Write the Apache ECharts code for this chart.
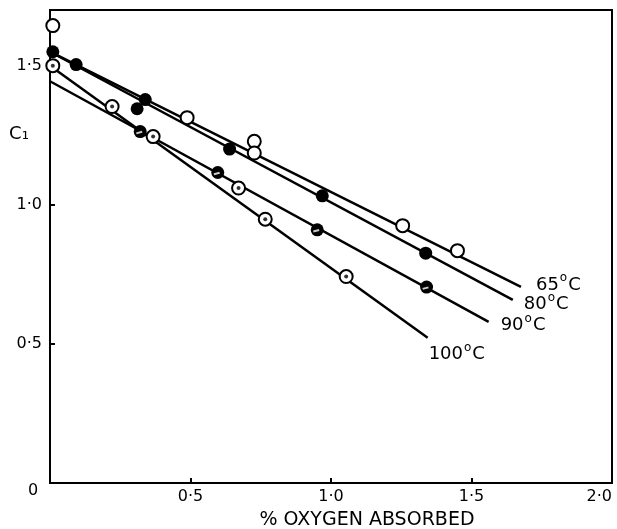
<!DOCTYPE html>
<html>
<head>
<meta charset="utf-8">
<script src="https://cdn.jsdelivr.net/npm/echarts@6/dist/echarts.min.js"></script>
<style>
    html, body { margin: 0; padding: 0; background: #fff; }
    #chart { width: 617px; height: 529px; }
</style>
</head>
<body>
<div id="chart"></div>
<script>
// fitted lines, start and end
var fit65 = [[0, 1.55], [1.676, 0.705]];
var fit80 = [[0, 1.55], [1.647, 0.658]];
var fit90 = [[0, 1.444], [1.561, 0.579]];
var fit100 = [[0, 1.50], [1.344, 0.522]];

// measured points
var pts65 = [[0.01, 1.644], [0.488, 1.313], [0.727, 1.228], [0.727, 1.186], [1.255, 0.925], [1.45, 0.835]];
var pts80 = [[0.01, 1.55], [0.093, 1.504], [0.339, 1.378], [0.31, 1.345], [0.639, 1.20], [0.969, 1.032], [1.337, 0.826]];
var pts90 = [[0.321, 1.263], [0.597, 1.116], [0.951, 0.910], [1.340, 0.704]];
var pts100 = [[0.01, 1.50], [0.221, 1.353], [0.367, 1.245], [0.671, 1.06], [0.766, 0.948], [1.054, 0.742]];

var lineNames = ['65', '80', '90', '100'];
var xTickLabels = { '0.5': '0·5', '1': '1·0', '1.5': '1·5', '2': '2·0' };
var yTickLabels = { '0.5': '0·5', '1': '1·0', '1.5': '1·5' };

var font = '"DejaVu Sans", sans-serif';

var myChart = echarts.init(document.getElementById('chart'));

function fitLine(data, name, offset) {
    return {
        type: 'line',
        data: data,
        symbol: 'none',
        silent: true,
        z: 2,
        lineStyle: { color: '#000', width: 2.5 },
        endLabel: {
            show: true,
            offset: offset,
            formatter: '{n|' + name + '}{s|o}{n|C}',
            rich: {
                n: { fontFamily: font, fontSize: 18, color: '#000' },
                s: { fontFamily: font, fontSize: 12, color: '#000', padding: [0, 1, 13, 1] }
            }
        }
    };
}

function points(data, fill, size) {
    return {
        type: 'scatter',
        data: data,
        symbol: 'circle',
        symbolSize: size,
        z: 3,
        silent: true,
        itemStyle: { color: fill, borderColor: '#000', borderWidth: fill == '#fff' ? 2 : 0, opacity: 1 }
    };
}

var option = {
    animation: false,
    grid: {
        left: 50, right: 5, top: 10, bottom: 46,
        show: true, borderColor: '#000', borderWidth: 2
    },
    xAxis: {
        type: 'value',
        min: 0, max: 2, interval: 0.5,
        splitLine: { show: false },
        axisLine: { lineStyle: { color: '#000', width: 2 } },
        axisTick: { inside: true, length: 5, lineStyle: { color: '#000', width: 2 } },
        axisLabel: {
            margin: 6, color: '#000', fontFamily: font, fontSize: 16,
            alignMaxLabel: 'right',
            formatter: function (v) { return xTickLabels[String(v)] || ''; }
        }
    },
    yAxis: {
        type: 'value',
        min: 0, max: 1.7, interval: 0.5,
        splitLine: { show: false },
        axisLine: { lineStyle: { color: '#000', width: 2 } },
        axisTick: { inside: true, length: 5, lineStyle: { color: '#000', width: 2 } },
        axisLabel: {
            margin: 8, color: '#000', fontFamily: font, fontSize: 16,
            formatter: function (v) { return yTickLabels[String(v)] || ''; }
        }
    },
    graphic: [
        { type: 'text', x: 33, y: 491, style: { text: '0', font: '16px ' + font, fill: '#000', align: 'center', verticalAlign: 'middle' } },
        { type: 'text', x: 19, y: 134, style: { text: 'C₁', font: '18px ' + font, fill: '#000', align: 'center', verticalAlign: 'middle' } },
        { type: 'text', x: 367, y: 520, style: { text: '% OXYGEN ABSORBED', font: '19px ' + font, fill: '#000', align: 'center', verticalAlign: 'middle' } }
    ],
    series: [
        fitLine(fit65, lineNames[0], [7, -2]),
        fitLine(fit80, lineNames[1], [3, 4]),
        fitLine(fit90, lineNames[2], [4, 3]),
        fitLine(fit100, lineNames[3], [-7, 17]),
        points(pts65, '#fff', 13),
        points(pts80, '#000', 13),
        points(pts90, '#000', 13),
        {
            type: 'scatter', data: pts90, symbol: 'rect', symbolSize: [6, 2],
            symbolRotate: 15, symbolOffset: [-1, 1], z: 4, silent: true,
            itemStyle: { color: '#fff' }
        },
        points(pts100, '#fff', 13),
        {
            type: 'scatter', data: pts100, symbol: 'circle', symbolSize: 4,
            z: 4, silent: true, itemStyle: { color: '#000' }
        }
    ]
};

myChart.setOption(option);
</script>
</body>
</html>
